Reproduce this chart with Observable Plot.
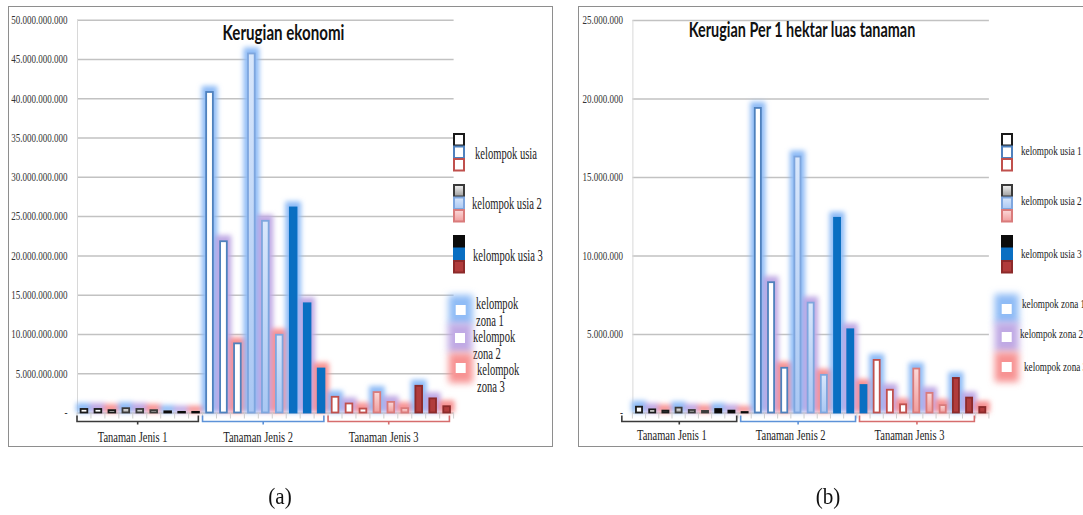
<!DOCTYPE html>
<html><head><meta charset="utf-8">
<script src="https://cdn.jsdelivr.net/npm/d3@7"></script>
<script src="https://cdn.jsdelivr.net/npm/@observablehq/plot@0.6"></script>
<style>
html,body{margin:0;padding:0;background:#fff;overflow:hidden}
#page{position:relative;width:1083px;height:515px;overflow:hidden;background:#fff}
.frame{position:absolute;box-sizing:border-box;border:1.5px solid #8e8e8e}
.clip{position:absolute;overflow:hidden}
.clip svg{position:absolute;left:0;top:0}
.cap{position:absolute;width:60px;text-align:center;font-family:"Liberation Serif",serif;font-size:24px;color:#111;transform:scaleX(0.88)}
</style></head><body>
<svg width="0" height="0" style="position:absolute">
  <defs>
    <filter id="glow" x="-30%" y="-30%" width="160%" height="160%"><feGaussianBlur stdDeviation="2.8"/></filter>
    <filter id="glowL" x="-80%" y="-80%" width="260%" height="260%"><feGaussianBlur stdDeviation="3.6"/></filter>
    <linearGradient id="gGray" x1="0" y1="0" x2="0" y2="1"><stop offset="0" stop-color="#f4f4f4"/><stop offset="1" stop-color="#9c9c9c"/></linearGradient>
    <linearGradient id="gBlue" x1="0" y1="0" x2="0" y2="1"><stop offset="0" stop-color="#d9e7fb"/><stop offset="1" stop-color="#a9c7f3"/></linearGradient>
    <linearGradient id="gPink" x1="0" y1="0" x2="0" y2="1"><stop offset="0" stop-color="#fbd9d9"/><stop offset="1" stop-color="#f09d9d"/></linearGradient>
  </defs>
</svg>
<div id="page">
  <div class="frame" style="left:8px;top:6px;width:545px;height:441px"></div>
  <div class="clip" id="panelA" style="left:8px;top:6px;width:545px;height:441px"></div>
  <div class="frame" style="left:578px;top:6px;width:530px;height:441px"></div>
  <div class="clip" id="panelB" style="left:578px;top:6px;width:505px;height:441px"></div>
  <div class="cap" style="left:250px;top:483px">(a)</div>
  <div class="cap" style="left:798px;top:483px">(b)</div>
</div>
<script>
// ---- data ----
const categories = ["Tanaman Jenis 1", "Tanaman Jenis 2", "Tanaman Jenis 3"];
const usiaLabelsA = ["kelompok usia", "kelompok usia 2", "kelompok usia 3"];
const usiaLabelsB = ["kelompok usia 1", "kelompok usia 2", "kelompok usia 3"];
const zonaLabelsA = [["kelompok", "zona 1"], ["kelompok", "zona 2"], ["kelompok", "zona 3"]];
const zonaLabelsB = [["kelompok zona 1"], ["kelompok zona 2"], ["kelompok zona 3"]];
// order within each plant type: usia 1 (zona 1,2,3), usia 2 (zona 1,2,3), usia 3 (zona 1,2,3)
const kerugianEkonomi = [
  0.45e9, 0.45e9, 0.3e9, 0.55e9, 0.45e9, 0.3e9, 0.15e9, 0.08e9, 0.08e9,
  40.8e9, 21.8e9, 8.8e9, 45.7e9, 24.4e9, 9.9e9, 26.1e9, 13.9e9, 5.6e9,
  2.0e9, 1.15e9, 0.5e9, 2.6e9, 1.35e9, 0.55e9, 3.4e9, 1.8e9, 0.8e9
];
const kerugianPerHektar = [
  0.37e6, 0.2e6, 0.12e6, 0.31e6, 0.16e6, 0.1e6, 0.22e6, 0.12e6, 0.03e6,
  19.4e6, 8.3e6, 2.85e6, 16.3e6, 7.0e6, 2.4e6, 12.4e6, 5.3e6, 1.75e6,
  3.35e6, 1.45e6, 0.52e6, 2.8e6, 1.25e6, 0.47e6, 2.2e6, 0.95e6, 0.35e6
];
const yTicksA = [0, 5e9, 10e9, 15e9, 20e9, 25e9, 30e9, 35e9, 40e9, 45e9, 50e9];
const yTicksB = [0, 5e6, 10e6, 15e6, 20e6, 25e6];
const titleA = "Kerugian ekonomi";
const titleB = "Kerugian Per 1 hektar luas tanaman";

// ---- styles ----
const barFill = [["#ffffff", "url(#gGray)", "#0b0b0b"], ["#ffffff", "url(#gBlue)", "#0a6fc2"], ["#ffffff", "url(#gPink)", "#b13c3c"]];
const barStroke = [["#1a1a1a", "#3a3a3a", "#0b0b0b"], ["#4f81bd", "#7ea6de", "#0a6fc2"], ["#c0504d", "#d97b7b", "#8c2a2a"]];
const zoneGlow = ["#8ebbf6", "#bfa9e4", "#f79292"];
const bracketColor = ["#3a3a3a", "#5d92d8", "#d66d6d"];
const fmt = v => v === 0 ? "-" : d3.format(",")(v).replace(/,/g, ".");

function squeeze(nodes, f) {
  nodes.forEach(t => {
    if (t.querySelector("tspan")) return;
    const w = t.getComputedTextLength();
    if (w > 0) { t.setAttribute("textLength", (w * f).toFixed(1)); t.setAttribute("lengthAdjust", "spacingAndGlyphs"); }
  });
}

function panel(cfg) {
  const n = cfg.values.length;
  const rows = cfg.values.map((v, i) => ({i, v, p: Math.floor(i / 9), u: Math.floor(i / 3) % 3, z: i % 3}));
  const xDomain = [-0.5, n - 0.5];
  const hw = cfg.halfWidth;
  const plot = Plot.plot({
    width: cfg.width, height: cfg.height,
    marginLeft: cfg.ml, marginRight: cfg.mr, marginTop: cfg.mt, marginBottom: cfg.mb,
    x: {domain: xDomain, axis: null},
    y: {domain: [0, cfg.yTicks[cfg.yTicks.length - 1]], ticks: cfg.yTicks, tickFormat: fmt, tickSize: 0, tickPadding: 10, label: null},
    color: {type: "identity"},
    style: {fontFamily: "Liberation Serif", fontSize: "12px", color: "#333", background: "transparent"},
    marks: [
      Plot.ruleY(cfg.yTicks, {stroke: "#c2c2c2", strokeWidth: 1.5}),
      Plot.ruleX([xDomain[0]], {stroke: "#d8d8d8"}),
      Plot.rect(rows, {x1: d => d.i - hw, x2: d => d.i + hw, y1: d => 0, y2: "v", fill: d => zoneGlow[d.z],
        insetLeft: -4.5, insetRight: -4.5, insetTop: -6}),
      Plot.rect(rows, {x1: d => d.i - hw, x2: d => d.i + hw, y1: d => 0, y2: "v",
        fill: d => barFill[d.p][d.u], stroke: d => barStroke[d.p][d.u], strokeWidth: 1.8}),
      Plot.text(categories, {x: (d, k) => k * 9 + cfg.labelOff, y: d => 0, text: d => d, dy: cfg.labelDy,
        fontSize: 15, fill: "#222", fontFamily: "Liberation Serif"})
    ]
  });
  document.getElementById(cfg.el).appendChild(plot);
  const svg = d3.select(plot);
  const rg = svg.selectAll('g[aria-label="rect"]').nodes();
  d3.select(rg[0]).attr("filter", "url(#glow)");

  const xs = plot.scale("x"), ys = plot.scale("y");
  const y0 = ys.apply(0);
  const extra = svg.append("g").attr("text-anchor", "start");
  // boundary ticks
  d3.range(0, n + 1).forEach(k => {
    const x = xs.apply(k - 0.5);
    extra.append("line").attr("x1", x).attr("x2", x).attr("y1", y0).attr("y2", y0 + 6)
      .attr("stroke", "#cfcfcf").attr("stroke-width", 1);
  });
  // brackets
  categories.forEach((c, k) => {
    const a = xs.apply(k * 9 + cfg.bracket[0]), b = xs.apply(k * 9 + cfg.bracket[1]), m = (a + b) / 2;
    extra.append("path").attr("d", `M${a},${y0 + 3}V${y0 + 9}H${b}V${y0 + 3}M${m},${y0 + 9}V${y0 + 12}`)
      .attr("fill", "none").attr("stroke", bracketColor[k]).attr("stroke-width", 1.6);
  });
  // title
  extra.append("text").attr("x", cfg.titleX).attr("y", cfg.titleY).attr("text-anchor", "middle")
    .attr("font-family", "Lato").attr("font-weight", "bold").attr("font-size", cfg.titleSize).attr("fill", "#111")
    .attr("class", "ttl").text(cfg.title);
  // legend: usia
  const lg = extra.append("g").attr("font-family", "Liberation Serif").attr("fill", "#222").attr("text-anchor", "start");
  cfg.usiaLabels.forEach((lab, u) => {
    const top = cfg.usiaTop[u];
    [0, 1, 2].forEach(p => {
      lg.append("rect").attr("x", cfg.iconX).attr("y", top + p * 12.5).attr("width", 10).attr("height", 11.5)
        .attr("fill", barFill[p][u]).attr("stroke", barStroke[p][u]).attr("stroke-width", 2);
    });
    lg.append("text").attr("x", cfg.usiaTextX[u]).attr("y", cfg.usiaTextY[u]).attr("dy", "0.35em")
      .attr("font-size", cfg.legendSize).attr("class", "lgt").text(lab);
  });
  // legend: zona
  cfg.zonaLabels.forEach((lines, z) => {
    const [cx, cy] = cfg.zonaCenter[z];
    lg.append("rect").attr("x", cx - 12).attr("y", cy - 15).attr("width", 24).attr("height", 30)
      .attr("fill", zoneGlow[z]).attr("filter", "url(#glowL)");
    lg.append("rect").attr("x", cx - 5).attr("y", cy - 5).attr("width", 10).attr("height", 10).attr("fill", "#fff");
    lines.forEach((line, j) => {
      lg.append("text").attr("x", cfg.zonaTextX[z]).attr("y", cfg.zonaTextY[z] + j * cfg.zonaLine).attr("dy", "0.35em")
        .attr("font-size", cfg.legendSize).attr("class", "lgt").text(line);
    });
  });
  squeeze(svg.selectAll('g[aria-label="y-axis tick label"] text').nodes(), 0.75);
  squeeze(svg.selectAll('g[aria-label="text"] text').nodes(), 0.7);
  squeeze(svg.selectAll('text.lgt').nodes(), cfg.legendSqueeze);
  squeeze(svg.selectAll('text.ttl').nodes(), 0.72);
}

panel({
  el: "panelA", values: kerugianEkonomi, yTicks: yTicksA, title: titleA,
  width: 545, height: 441, ml: 69, mr: 99.4, mt: 13.7, mb: 34.5, halfWidth: 0.24,
  bracket: [-0.5, 8.2], labelOff: 3.45, labelDy: 24,
  titleX: 275.5, titleY: 34, titleSize: 21,
  iconX: 446, usiaTop: [128, 179, 230], usiaTextX: [467, 464, 465], usiaTextY: [147, 197, 249],
  usiaLabels: usiaLabelsA, zonaLabels: zonaLabelsA,
  zonaCenter: [[452.7, 304], [452, 332], [452.7, 362]],
  zonaTextX: [468, 465, 469], zonaTextY: [297, 330, 363], zonaLine: 17,
  legendSize: 16, legendSqueeze: 0.66
});
panel({
  el: "panelB", values: kerugianPerHektar, yTicks: yTicksB, title: titleB,
  width: 505, height: 441, ml: 54.4, mr: 94.1, mt: 14, mb: 34.5, halfWidth: 0.23,
  bracket: [-1.3, 7.4], labelOff: 2.45, labelDy: 22.5,
  titleX: 224, titleY: 31, titleSize: 20,
  iconX: 424, usiaTop: [128, 179, 230], usiaTextX: [443, 443, 443], usiaTextY: [144, 194, 247],
  usiaLabels: usiaLabelsB, zonaLabels: zonaLabelsB,
  zonaCenter: [[428.7, 303], [428.7, 331], [428.7, 361]],
  zonaTextX: [444, 442, 446], zonaTextY: [297, 327, 360], zonaLine: 0,
  legendSize: 13.5, legendSqueeze: 0.68
});
</script>
</body></html>
